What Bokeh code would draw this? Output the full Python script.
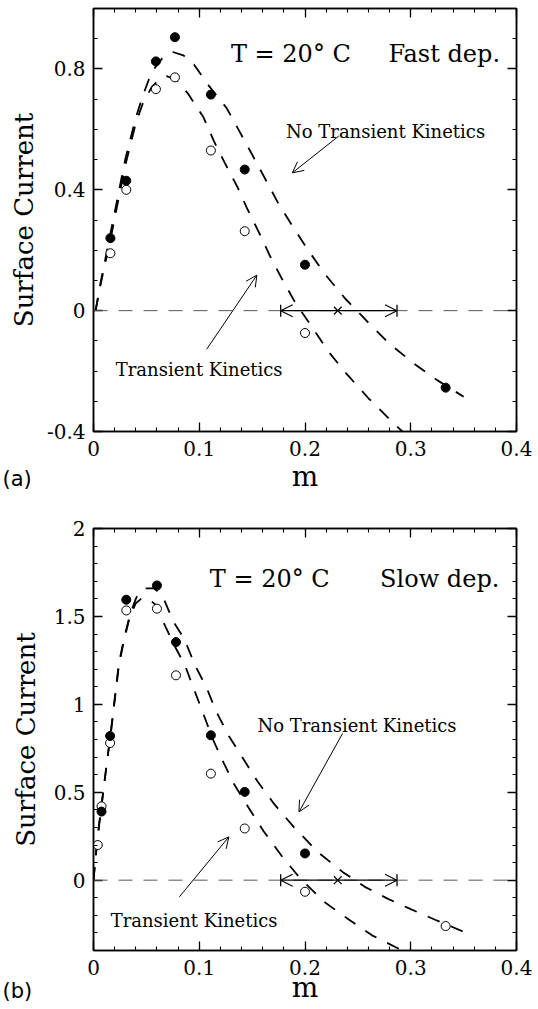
import math
from bokeh.plotting import figure
from bokeh.models import (FixedTicker, LinearAxis, Range1d, Span, Arrow, OpenHead, Label, Title)
from bokeh.layouts import column
from bokeh.embed import file_html
from bokeh.resources import INLINE

# ---------------- data: panel (a) fast deposition ----------------
fast_filled_m = [0.016, 0.031, 0.059, 0.077, 0.111, 0.143, 0.200, 0.333]
fast_filled_i = [0.24, 0.43, 0.825, 0.905, 0.715, 0.467, 0.152, -0.255]
fast_open_m = [0.016, 0.031, 0.059, 0.077, 0.111, 0.143, 0.200]
fast_open_i = [0.19, 0.40, 0.733, 0.772, 0.530, 0.263, -0.074]

fast_notk_m = [0.002, 0.006, 0.010, 0.014, 0.018, 0.022, 0.026, 0.030, 0.035, 0.040, 0.0465,
               0.055, 0.065, 0.075, 0.085, 0.095, 0.108, 0.126, 0.137, 0.151, 0.161, 0.174,
               0.189, 0.203, 0.219, 0.238, 0.260, 0.280, 0.303, 0.325, 0.350]
fast_notk_i = [0.0, 0.08, 0.15, 0.22, 0.29, 0.36, 0.43, 0.50, 0.57, 0.638, 0.71,
               0.79, 0.835, 0.856, 0.845, 0.815, 0.749, 0.67, 0.60, 0.51, 0.445, 0.36,
               0.275, 0.20, 0.12, 0.04, -0.04, -0.11, -0.175, -0.23, -0.285]

fast_tk_m = [0.002, 0.006, 0.010, 0.014, 0.018, 0.022, 0.026, 0.030, 0.035, 0.040, 0.0465,
             0.055, 0.062, 0.069, 0.078, 0.089, 0.104, 0.114, 0.124, 0.136, 0.145, 0.157,
             0.167, 0.179, 0.191, 0.207, 0.222, 0.240, 0.260, 0.283, 0.295]
fast_tk_i = [0.0, 0.075, 0.14, 0.20, 0.27, 0.34, 0.41, 0.48, 0.55, 0.62, 0.685,
             0.74, 0.765, 0.776, 0.765, 0.72, 0.64, 0.56, 0.49, 0.41, 0.34, 0.255,
             0.18, 0.10, 0.025, -0.056, -0.135, -0.212, -0.29, -0.37, -0.41]

# ---------------- data: panel (b) slow deposition ----------------
slow_filled_m = [0.0076, 0.0157, 0.031, 0.060, 0.078, 0.111, 0.143, 0.200]
slow_filled_i = [0.39, 0.82, 1.595, 1.676, 1.354, 0.824, 0.502, 0.152]
slow_open_m = [0.004, 0.0076, 0.0157, 0.031, 0.060, 0.078, 0.111, 0.143, 0.200, 0.333]
slow_open_i = [0.20, 0.42, 0.78, 1.534, 1.544, 1.165, 0.606, 0.294, -0.066, -0.261]

slow_notk_m = [0.0, 0.002, 0.005, 0.010, 0.0135, 0.0157, 0.020, 0.024, 0.029, 0.0345, 0.040,
               0.0433, 0.050, 0.057, 0.0647, 0.0756, 0.0858, 0.096, 0.107, 0.116, 0.128,
               0.141, 0.155, 0.171, 0.190, 0.212, 0.2355, 0.2566, 0.279, 0.300, 0.323,
               0.335, 0.350]
slow_notk_i = [0.0, 0.13, 0.30, 0.54, 0.71, 0.81, 1.03, 1.233, 1.378, 1.51, 1.60,
               1.638, 1.66, 1.66, 1.625, 1.47, 1.373, 1.222, 1.094, 0.96, 0.82,
               0.696, 0.5625, 0.432, 0.298, 0.161, 0.047, -0.038, -0.108, -0.165, -0.225,
               -0.255, -0.294]

slow_tk_m = [0.0, 0.002, 0.005, 0.010, 0.0135, 0.0157, 0.020, 0.024, 0.029, 0.0345, 0.040,
             0.045, 0.0512, 0.058, 0.066, 0.076, 0.0865, 0.0945, 0.104, 0.113, 0.123,
             0.133, 0.147, 0.1607, 0.178, 0.195, 0.218, 0.241, 0.263, 0.292]
slow_tk_i = [0.0, 0.13, 0.30, 0.54, 0.71, 0.80, 1.02, 1.22, 1.37, 1.50, 1.575,
             1.60, 1.605, 1.57, 1.468, 1.34, 1.222, 1.094, 0.943, 0.80, 0.668,
             0.545, 0.409, 0.28, 0.1375, 0.013, -0.123, -0.222, -0.3125, -0.40]

# zero-crossing range marker: [left bound, estimate, right bound]
zero_range_m = [0.177, 0.231, 0.287]

# ---------------- axes / ticks ----------------
x_ticks = [0.0, 0.1, 0.2, 0.3, 0.4]
x_tick_labels = ["0", "0.1", "0.2", "0.3", "0.4"]
fast_y_ticks = [-0.4, 0.0, 0.4, 0.8]
fast_y_tick_labels = ["-0.4", "0", "0.4", "0.8"]
slow_y_ticks = [0.0, 0.5, 1.0, 1.5, 2.0]
slow_y_tick_labels = ["0", "0.5", "1", "1.5", "2"]

SERIF = "DejaVu Serif"
SANS = "DejaVu Sans"
DASH = "13 12"


def style_axis(ax, ticks, minor, labels, show_labels=True, standoff=8):
    ax.ticker = FixedTicker(ticks=ticks, minor_ticks=minor)
    ax.major_tick_in = 9
    ax.major_tick_out = 0
    ax.minor_tick_in = 4
    ax.minor_tick_out = 0
    ax.axis_line_color = "black"
    ax.axis_line_width = 1.5
    ax.major_tick_line_color = "black"
    ax.major_tick_line_width = 1.3
    ax.minor_tick_line_color = "black"
    ax.minor_tick_line_width = 1.1
    ax.major_label_text_font = SERIF
    ax.axis_label_text_font = SERIF
    ax.axis_label_text_font_style = "normal"
    ax.axis_label_text_color = "black"
    if show_labels:
        ax.major_label_overrides = {t: l for t, l in zip(ticks, labels)}
        ax.major_label_text_color = "black"
        ax.major_label_text_font_size = "20px"
        ax.major_label_standoff = standoff
    else:
        # mirrored axis: tick marks only, no labels drawn
        ax.major_label_text_color = None
        ax.major_label_text_alpha = 0
        ax.major_label_text_font_size = "0px"
        ax.major_label_standoff = 0


def make_panel(height, btop, bbot, ymin, ymax, yticks, yminor, ylabels,
               filled_m, filled_i, open_m, open_i, notk_m, notk_i, tk_m, tk_i,
               title_left, title_y, cond_text, cond_x,
               notk_txt, notk_arrow, tk_txt, tk_arrow,
               ylab_standoff, xlab_standoff, tag, tag_standoff):
    p = figure(width=538, height=height, x_range=Range1d(0, 0.4), y_range=Range1d(ymin, ymax),
               output_backend="svg", toolbar_location=None,
               min_border_left=93, min_border_right=22, min_border_top=btop, min_border_bottom=bbot)
    p.xgrid.visible = False
    p.ygrid.visible = False
    p.outline_line_color = "black"
    p.outline_line_width = 1.5
    p.background_fill_color = "white"
    p.border_fill_color = "white"

    xminor = [round(0.02 * k, 2) for k in range(0, 21)]
    style_axis(p.xaxis[0], x_ticks, xminor, x_tick_labels, True, 9)
    style_axis(p.yaxis[0], yticks, yminor, ylabels, True, 8)
    p.xaxis[0].axis_label = "m"
    p.xaxis[0].axis_label_text_font_size = "28px"
    p.xaxis[0].axis_label_standoff = xlab_standoff
    p.yaxis[0].axis_label = "Surface Current"
    p.yaxis[0].axis_label_text_font_size = "26px"
    p.yaxis[0].axis_label_standoff = ylab_standoff

    top_ax = LinearAxis()
    style_axis(top_ax, x_ticks, xminor, x_tick_labels, False)
    p.add_layout(top_ax, "above")
    right_ax = LinearAxis()
    style_axis(right_ax, yticks, yminor, ylabels, False)
    p.add_layout(right_ax, "right")

    # panel tag "(a)" / "(b)" in the bottom border, level with the axis title
    p.add_layout(Title(text=tag, align="left", vertical_align="top", offset=-91,
                       standoff=tag_standoff, text_font=SANS, text_font_size="21px",
                       text_font_style="normal", text_color="black"), "below")

    # zero line
    p.add_layout(Span(location=0, dimension="width", line_color="#555555",
                      line_width=1, line_dash="14 11"))

    # model curves
    p.line(notk_m, notk_i, line_color="black", line_width=1.8, line_dash=DASH)
    p.line(tk_m, tk_i, line_color="black", line_width=1.8, line_dash=DASH)

    # zero-crossing range marker
    lo, mid, hi = zero_range_m
    for end_x in (lo, hi):
        p.add_layout(Arrow(x_start=mid, y_start=0, x_end=end_x, y_end=0, line_width=1.1,
                           line_color="black",
                           end=OpenHead(size=12, line_width=1.1, line_color="black")))
    p.scatter([lo, hi], [0, 0], marker="dash", angle=math.pi / 2, size=12,
              line_color="black", line_width=1.3)
    p.scatter([mid], [0], marker="x", size=11, line_color="black", line_width=1.2)

    # data points
    p.scatter(open_m, open_i, marker="circle", size=9, fill_color="white",
              line_color="black", line_width=1)
    p.scatter(filled_m, filled_i, marker="circle", size=9, fill_color="black",
              line_color="black", line_width=1)

    # annotations
    p.add_layout(Label(x=title_left, y=title_y, text="T = 20° C", text_font=SERIF,
                       text_font_size="24px", text_color="black", text_baseline="alphabetic"))
    p.add_layout(Label(x=cond_x, y=title_y, text=cond_text, text_font=SERIF,
                       text_font_size="24px", text_color="black", text_baseline="alphabetic"))
    p.add_layout(Label(x=notk_txt[0], y=notk_txt[1], text="No Transient Kinetics", text_font=SERIF,
                       text_font_size="18px", text_color="black", text_baseline="alphabetic"))
    p.add_layout(Label(x=tk_txt[0], y=tk_txt[1], text="Transient Kinetics", text_font=SERIF,
                       text_font_size="18px", text_color="black", text_baseline="alphabetic"))
    for (xs, ys, xe, ye) in (notk_arrow, tk_arrow):
        p.add_layout(Arrow(x_start=xs, y_start=ys, x_end=xe, y_end=ye, line_width=1,
                           line_color="black",
                           end=OpenHead(size=11, line_width=1, line_color="black")))
    return p


fast_minor = [round(-0.4 + 0.1 * k, 1) for k in range(0, 15)]
slow_minor = [round(-0.4 + 0.1 * k, 1) for k in range(0, 25)]

p1 = make_panel(505, 8, 74, -0.4, 1.0, fast_y_ticks, fast_minor, fast_y_tick_labels,
                fast_filled_m, fast_filled_i, fast_open_m, fast_open_i,
                fast_notk_m, fast_notk_i, fast_tk_m, fast_tk_i,
                0.13, 0.848, "Fast dep.", 0.279,
                (0.182, 0.594), (0.232, 0.578, 0.188, 0.456),
                (0.021, -0.195), (0.107, -0.128, 0.1545, 0.1175),
                5, 1, "(a)", -57)

p2 = make_panel(504, 23, 59, -0.4, 2.0, slow_y_ticks, slow_minor, slow_y_tick_labels,
                slow_filled_m, slow_filled_i, slow_open_m, slow_open_i,
                slow_notk_m, slow_notk_i, slow_tk_m, slow_tk_i,
                0.110, 1.714, "Slow dep.", 0.271,
                (0.155, 0.881), (0.2355, 0.834, 0.1943, 0.388),
                (0.0162, -0.227), (0.0812, -0.095, 0.128, 0.246),
                10, -7, "(b)", -55)

layout = column(p1, p2, spacing=0)
open("out.html", "w").write(file_html(layout, INLINE))
